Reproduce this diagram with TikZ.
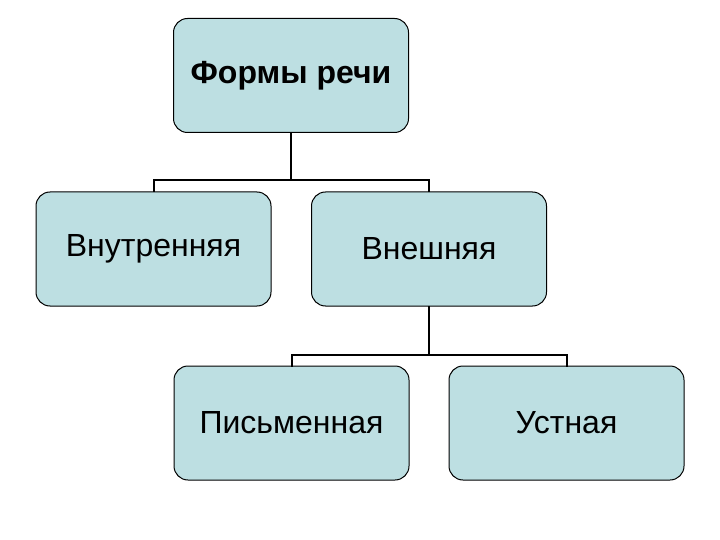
\documentclass[tikz,border=0pt]{standalone}
\usepackage{fontspec}
\setmainfont{Liberation Sans}
\usepackage{tikz}
\usetikzlibrary{positioning,calc}
\definecolor{boxfill}{RGB}{189,223,226}
\tikzset{
  formbox/.style={
    rectangle, draw=black, rounded corners=14pt,
    fill=boxfill, line width=1pt,
    minimum width=235pt, minimum height=114pt,
    font=\fontsize{32}{37}\selectfont,
    inner sep=0pt
  },
  % linee dell'albero
  branch/.style={line width=2pt, line cap=rect}
}

\begin{document}
\begin{tikzpicture}[x=1pt, y=-1pt]
\useasboundingbox (0,0) rectangle (720,540);

% Livello superiore
\node[formbox] (formy) at (291,75.5) {\textbf{Формы речи}};

% Livello secondo
\node[formbox] (vnutr) at (153.5,249) {Внутренняя};
\node[formbox] (vnesh) at (429,249) {Внешняя};

% Livello terzo
\node[formbox] (pism) at (291.5,423) {Письменная};
\node[formbox] (ustn) at (566.5,423) {Устная};

% Collegamenti
\draw[branch] (formy.south) -- ++(0,47) coordinate (nodo1);
\draw[branch] (vnutr.north) |- (nodo1) -| (vnesh.north);
\draw[branch] (vnesh.south) -- ++(0,48) coordinate (nodo2);
\draw[branch] (pism.north) |- (nodo2) -| (ustn.north);

\end{tikzpicture}
\end{document}
